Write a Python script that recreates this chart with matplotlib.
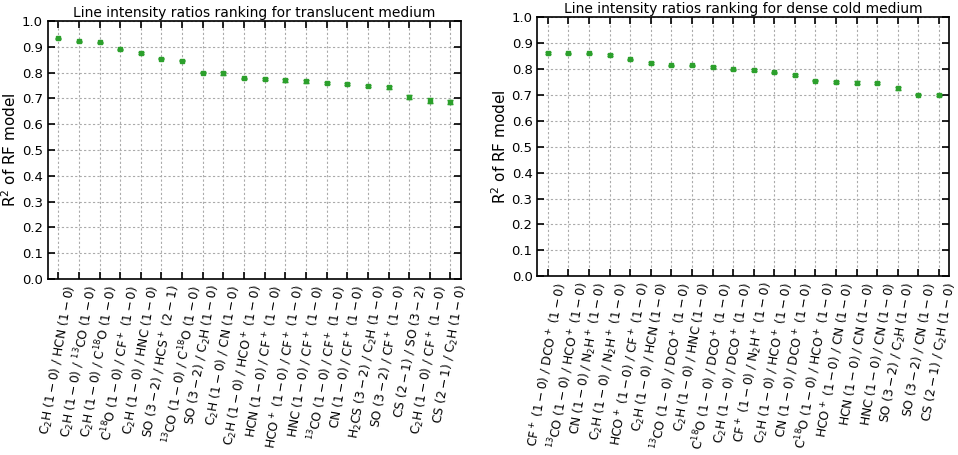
import numpy as np
import matplotlib
matplotlib.use("Agg")
from matplotlib import pyplot as plt


def ratio(a, ta, b, tb):
    # label like "C$_2$H (1-0) / HCN (1-0)"
    return f"{a} $({ta})$ / {b} $({tb})$"


C2H, HCN, HNC, CN = r"C$_2$H", "HCN", "HNC", "CN"
CO13, C18O = r"$^{13}$CO", r"C$^{18}$O"
CFp, HCOp, DCOp, N2Hp = r"CF$^+$", r"HCO$^+$", r"DCO$^+$", r"N$_2$H$^+$"
HCSp, H2CS, SO, CS = r"HCS$^+$", r"H$_2$CS", "SO", "CS"
t10, t32, t21 = "1-0", "3-2", "2-1"

translucent_labels = [
    ratio(C2H, t10, HCN, t10),
    ratio(C2H, t10, CO13, t10),
    ratio(C2H, t10, C18O, t10),
    ratio(C18O, t10, CFp, t10),
    ratio(C2H, t10, HNC, t10),
    ratio(SO, t32, HCSp, t21),
    ratio(CO13, t10, C18O, t10),
    ratio(SO, t32, C2H, t10),
    ratio(C2H, t10, CN, t10),
    ratio(C2H, t10, HCOp, t10),
    ratio(HCN, t10, CFp, t10),
    ratio(HCOp, t10, CFp, t10),
    ratio(HNC, t10, CFp, t10),
    ratio(CO13, t10, CFp, t10),
    ratio(CN, t10, CFp, t10),
    ratio(H2CS, t32, C2H, t10),
    ratio(SO, t32, CFp, t10),
    ratio(CS, t21, SO, t32),
    ratio(C2H, t10, CFp, t10),
    ratio(CS, t21, C2H, t10),
]
translucent_r2 = [0.932, 0.921, 0.917, 0.890, 0.875, 0.854, 0.846, 0.800, 0.797, 0.777,
                  0.775, 0.770, 0.766, 0.759, 0.755, 0.747, 0.743, 0.705, 0.691, 0.685]
translucent_err = [0.002, 0.002, 0.003, 0.002, 0.003, 0.003, 0.003, 0.003, 0.005, 0.003,
                   0.004, 0.005, 0.005, 0.005, 0.003, 0.003, 0.005, 0.009, 0.010, 0.008]

dense_labels = [
    ratio(CFp, t10, DCOp, t10),
    ratio(CO13, t10, HCOp, t10),
    ratio(CN, t10, N2Hp, t10),
    ratio(C2H, t10, N2Hp, t10),
    ratio(HCOp, t10, CFp, t10),
    ratio(C2H, t10, HCN, t10),
    ratio(CO13, t10, DCOp, t10),
    ratio(C2H, t10, HNC, t10),
    ratio(C18O, t10, DCOp, t10),
    ratio(C2H, t10, DCOp, t10),
    ratio(CFp, t10, N2Hp, t10),
    ratio(C2H, t10, HCOp, t10),
    ratio(CN, t10, DCOp, t10),
    ratio(C18O, t10, HCOp, t10),
    ratio(HCOp, t10, CN, t10),
    ratio(HCN, t10, CN, t10),
    ratio(HNC, t10, CN, t10),
    ratio(SO, t32, C2H, t10),
    ratio(SO, t32, CN, t10),
    ratio(CS, t21, C2H, t10),
]
dense_r2 = [0.862, 0.861, 0.861, 0.854, 0.837, 0.824, 0.814, 0.814, 0.809, 0.800,
            0.796, 0.787, 0.778, 0.755, 0.750, 0.748, 0.746, 0.725, 0.701, 0.699]
dense_err = [0.003, 0.002, 0.002, 0.003, 0.003, 0.003, 0.003, 0.002, 0.003, 0.002,
             0.004, 0.003, 0.003, 0.003, 0.003, 0.004, 0.003, 0.006, 0.002, 0.004]

panels = [
    ("Line intensity ratios ranking for translucent medium", translucent_labels, translucent_r2, translucent_err),
    ("Line intensity ratios ranking for dense cold medium", dense_labels, dense_r2, dense_err),
]

fig = plt.figure(figsize=(9.58, 4.55), dpi=100)
boxes = [[0.050, 0.387, 0.431, 0.567], [0.561, 0.393, 0.430, 0.569]]

for box, (title, labels, r2, err) in zip(boxes, panels):
    ax = fig.add_axes(box)
    x = np.arange(len(labels))
    ax.errorbar(x, r2, yerr=err, fmt="s", color="tab:green", ms=3.5,
                elinewidth=1, capsize=2, zorder=3)
    ax.set_xlim(-0.5, len(labels) - 0.5)
    ax.set_ylim(0, 1)
    ax.set_yticks(np.arange(0, 1.01, 0.1))
    ax.set_xticks(x)
    ax.set_xticklabels(labels, rotation=80, fontsize=8.8)
    ax.tick_params(axis="y", labelsize=9.5)
    ax.tick_params(direction="in", top=True, right=True, length=5, width=1.2)
    for s in ax.spines.values():
        s.set_linewidth(1.2)
    ax.grid(True, color="#aaaaaa", linestyle=(0, (2, 2)), linewidth=0.8)
    ax.set_axisbelow(True)
    ax.set_title(title, fontsize=10, pad=3)
    ax.set_ylabel(r"R$^2$ of RF model", fontsize=11, labelpad=2)

fig.savefig("out.png", dpi=100)
